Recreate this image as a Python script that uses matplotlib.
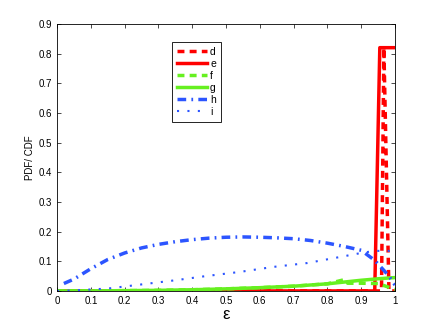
import matplotlib
matplotlib.use("Agg")
import matplotlib.pyplot as plt

plt.rcParams['font.family'] = ['Liberation Sans', 'DejaVu Sans']

# d: red dashed, e: red solid
x_d = [0.0, 0.2, 0.4, 0.6, 0.8, 0.96, 0.967, 0.982, 1.0]
y_d = [0.0, 0.0, 0.0, 0.0, 0.0, 0.0, 0.82, 0.0, 0.0]
x_e = [0.0, 0.2, 0.4, 0.6, 0.8, 0.94, 0.955, 1.0]
y_e = [0.0, 0.0, 0.0, 0.0, 0.0, 0.0, 0.82, 0.82]

# f: green dashed, g: green solid
x_f = [0.0, 0.1, 0.2, 0.3, 0.4, 0.5, 0.6, 0.7, 0.8, 0.85, 0.86, 0.9, 0.95, 0.98, 1.0]
y_f = [0.0, 0.0, 0.001, 0.002, 0.004, 0.007, 0.011, 0.016, 0.024, 0.038, 0.026, 0.026, 0.025, 0.013, 0.005]
x_g = [0.0, 0.1, 0.2, 0.3, 0.4, 0.5, 0.6, 0.7, 0.8, 0.85, 0.9, 0.95, 1.0]
y_g = [0.0, 0.0, 0.001, 0.002, 0.004, 0.007, 0.011, 0.016, 0.024, 0.03, 0.036, 0.041, 0.045]

# h: blue dash-dot, i: blue dotted
x_h = [0.02, 0.05, 0.1, 0.15, 0.2, 0.25, 0.3, 0.35, 0.4, 0.45, 0.5, 0.55,
       0.6, 0.65, 0.7, 0.75, 0.8, 0.85, 0.9, 0.94, 0.98, 1.0]
y_h = [0.025, 0.04, 0.075, 0.106, 0.128, 0.145, 0.157, 0.166, 0.173, 0.178, 0.181, 0.182,
       0.181, 0.179, 0.176, 0.17, 0.161, 0.15, 0.137, 0.103, 0.053, 0.02]
x_i = [0.0, 0.05, 0.15, 0.25, 0.35, 0.44, 0.54, 0.64, 0.74, 0.84, 0.9, 0.94, 1.0]
y_i = [0.0, 0.002, 0.008, 0.022, 0.036, 0.05, 0.064, 0.081, 0.094, 0.115, 0.128, 0.135, 0.135]

labels = ['d', 'e', 'f', 'g', 'h', 'i']
xticks = [0, 0.1, 0.2, 0.3, 0.4, 0.5, 0.6, 0.7, 0.8, 0.9, 1]
xtick_labels = ['0', '0.1', '0.2', '0.3', '0.4', '0.5', '0.6', '0.7', '0.8', '0.9', '1']
yticks = [0, 0.1, 0.2, 0.3, 0.4, 0.5, 0.6, 0.7, 0.8, 0.9]
ytick_labels = ['0', '0.1', '0.2', '0.3', '0.4', '0.5', '0.6', '0.7', '0.8', '0.9']

red = '#ff0000'
green = '#66f020'
blue = '#2c55ff'

fig = plt.figure(figsize=(4.36, 3.28), dpi=100)
ax = fig.add_axes([0.131, 0.113, 0.775, 0.814])

ax.plot(x_d, y_d, color=red, ls=(0, (2.0, 1.5)), lw=2.5, label=labels[0])
ax.plot(x_e, y_e, color=red, ls='-', lw=2.5, label=labels[1])
ax.plot(x_f, y_f, color=green, ls=(0, (2.0, 1.5)), lw=2.5, label=labels[2])
ax.plot(x_g, y_g, color=green, ls='-', lw=2.5, label=labels[3])
ax.plot(x_h, y_h, color=blue, ls=(0, (2.5, 1.5, 0.5, 1.5)), lw=2.5, label=labels[4])
ax.plot(x_i, y_i, color=blue, ls=(0, (1, 4)), lw=1.5, label=labels[5])

ax.set_xlim(0, 1)
ax.set_ylim(0, 0.9)
ax.set_xticks(xticks)
ax.set_xticklabels(xtick_labels)
ax.set_yticks(yticks)
ax.set_yticklabels(ytick_labels)
ax.tick_params(direction='in', top=True, right=True, labelsize=7, length=3, width=0.5)
for s in ax.spines.values():
    s.set_linewidth(0.6)

ax.set_xlabel('ε', fontsize=12, labelpad=1)
ax.set_ylabel('PDF/ CDF', fontsize=7, labelpad=3)

leg = ax.legend(loc='upper left', bbox_to_anchor=(172 / 436, 1 - 42 / 328),
                bbox_transform=fig.transFigure, borderaxespad=0, fontsize=7.5,
                handlelength=2.9, handletextpad=0.3, labelspacing=0.2, borderpad=0.45,
                fancybox=False, framealpha=1, edgecolor='black')
leg.get_frame().set_linewidth(0.6)

fig.savefig('out.png', dpi=100)
